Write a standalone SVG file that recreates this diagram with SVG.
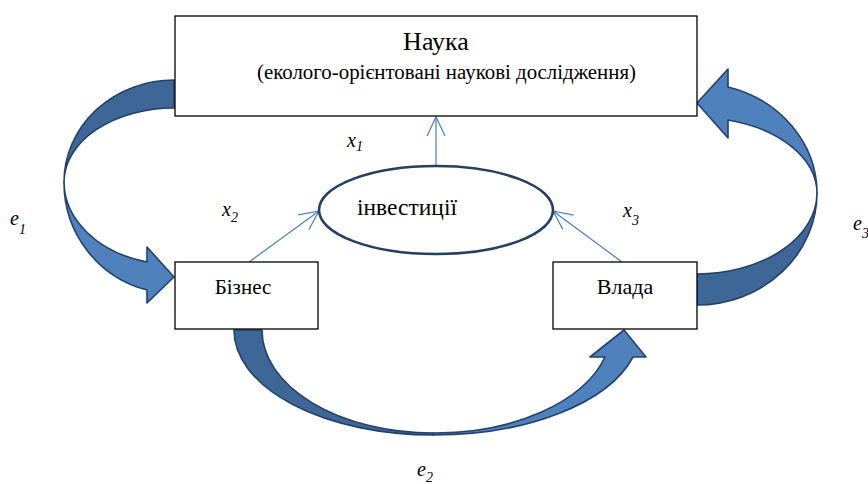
<svg xmlns="http://www.w3.org/2000/svg" width="868" height="484" viewBox="0 0 868 484">
<style>
.box{fill:#fff;stroke:#000;stroke-width:1.3}
.thin{stroke:#4a7ebb;stroke-width:1.2;fill:none}
.dark{fill:#3e6797;stroke:#22426b;stroke-width:1.6;stroke-linejoin:round}
.light{fill:#4f81bd;stroke:#22426b;stroke-width:1.6;stroke-linejoin:round}
.serif{font-family:'Times New Roman','Liberation Serif','DejaVu Serif',serif}
</style>
<defs>
<marker id="open" markerUnits="userSpaceOnUse" markerWidth="24" markerHeight="24" viewBox="-20 -12 24 24" refX="0" refY="0" orient="auto">
<path d="M-19,-9 L0,0 L-19,9" fill="none" stroke="#4a7ebb" stroke-width="1.2"/>
</marker>
</defs>
<g id="connectors">
<g id="e1-arrow">
<path class="dark" d="M174,80 A110,102 0 0 0 64,182 A110,74 0 0 1 174,108 Z"/>
<path class="light" d="M64,182 A110,111 0 0 0 147,290 L147,303 L174,277 L147,247 L147,262 A110,83 0 0 1 64,182 Z"/>
</g>
<g id="e3-arrow">
<path class="dark" d="M697,305 A120,112 0 0 0 817,193 A120,81 0 0 1 697,274 Z"/>
<path class="light" d="M817,193 A120,110 0 0 0 728,87 L728,69 L697,103 L728,138 L728,120 A120,76 0 0 1 817,193 Z"/>
</g>
<g id="e2-arrow">
<path class="dark" d="M234,330 A199,105 0 0 0 433,435 L433,433 A171,103 0 0 1 262,330 Z"/>
<path class="light" d="M433,435 A206,106 0 0 0 633,357 L646,357 L624,330 L590,357 L605,357 A176,104 0 0 1 433,433 Z"/>
</g>
<line class="thin" x1="436" y1="166" x2="436" y2="117" marker-end="url(#open)"/>
<line class="thin" x1="249" y1="262" x2="319" y2="211" marker-end="url(#open)"/>
<line class="thin" x1="622" y1="262" x2="553" y2="211" marker-end="url(#open)"/>
</g>
<g id="nauka" class="serif">
<rect class="box" x="175" y="16" width="522" height="100"/>
<text x="436" y="50" font-size="26" text-anchor="middle">Наука</text>
<text x="257" y="79" font-size="20" textLength="379" lengthAdjust="spacingAndGlyphs">(еколого-орієнтовані наукові дослідження)</text>
</g>
<g id="investytsii" class="serif">
<ellipse cx="436" cy="210" rx="117" ry="44" fill="#fff" stroke="#243f60" stroke-width="2.6"/>
<text x="357" y="215" font-size="23" textLength="100" lengthAdjust="spacingAndGlyphs">інвестиції</text>
</g>
<g id="biznes" class="serif">
<rect class="box" x="175" y="262" width="143" height="67"/>
<text x="243" y="294" font-size="21" text-anchor="middle">Бізнес</text>
</g>
<g id="vlada" class="serif">
<rect class="box" x="553" y="262" width="144" height="67"/>
<text x="625" y="294" font-size="22" text-anchor="middle">Влада</text>
</g>
<g id="labels" class="serif" font-style="italic">
<text x="347" y="147" font-size="20">x<tspan font-size="14" dy="4">1</tspan></text>
<text x="222" y="216" font-size="20">x<tspan font-size="14" dy="6">2</tspan></text>
<text x="623" y="217" font-size="20">x<tspan font-size="14" dy="8">3</tspan></text>
<text x="10" y="225" font-size="20">e<tspan font-size="14" dy="9">1</tspan></text>
<text x="417" y="476" font-size="20">e<tspan font-size="14" dy="6">2</tspan></text>
<text x="853" y="230" font-size="20">e<tspan font-size="14" dy="8">3</tspan></text>
</g>
</svg>
